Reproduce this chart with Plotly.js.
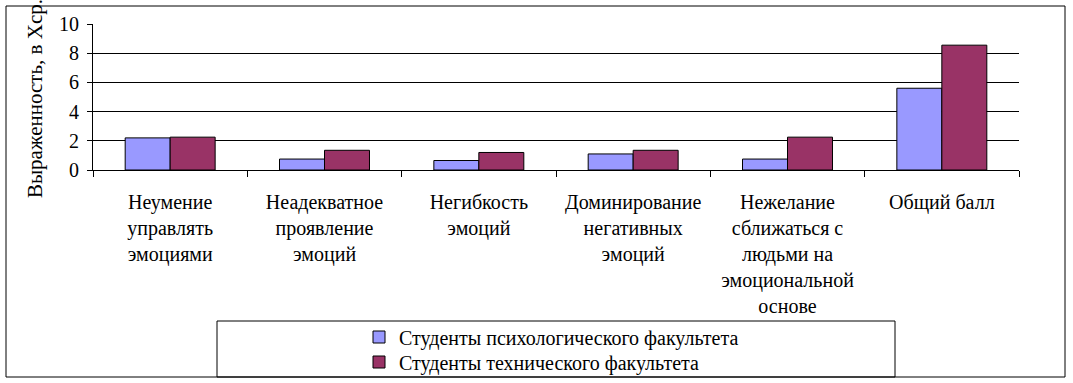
<!DOCTYPE html>
<html>
<head>
<meta charset="utf-8">
<script src="https://cdn.plot.ly/plotly-3.0.1.min.js"></script>
<style>html,body{margin:0;padding:0;background:#fff;}</style>
</head>
<body>
<div id="chart" style="width:1073px;height:383px;"></div>
<script>
const categories = [
  "Неумение<br>управлять<br>эмоциями",
  "Неадекватное<br>проявление<br>эмоций",
  "Негибкость<br>эмоций",
  "Доминирование<br>негативных<br>эмоций",
  "Нежелание<br>сближаться с<br>людьми на<br>эмоциональной<br>основе",
  "Общий балл"
];
const seriesNames = ["Студенты психологического факультета", "Студенты технического факультета"];
const psychValues = [2.2, 0.75, 0.65, 1.1, 0.75, 5.6];
const techValues = [2.25, 1.35, 1.2, 1.35, 2.25, 8.55];
const yTitle = "Выраженность, в Хср.";

const W = 1073, H = 383;
const L = 93, R = 1019, T = 24, B = 170;
const px = x => (x - L) / (R - L);
const py = y => (B - y) / (B - T);
const font = "Liberation Serif";

const traces = [
  {type: "bar", name: seriesNames[0], x: categories, y: psychValues, legend: "legend",
   marker: {color: "#9999FF", line: {color: "#000", width: 1}}},
  {type: "bar", name: seriesNames[1], x: categories, y: techValues, legend: "legend2",
   marker: {color: "#993366", line: {color: "#000", width: 1}}}
];

const legendBase = {
  xanchor: "left", yanchor: "middle",
  bgcolor: "rgba(0,0,0,0)", borderwidth: 0,
  font: {family: font, size: 20, color: "#000"},
  tracegroupgap: 0, itemwidth: 30
};

const layout = {
  width: W, height: H,
  margin: {l: L, r: W - R, t: T, b: H - B, pad: 0, autoexpand: false},
  paper_bgcolor: "#fff", plot_bgcolor: "#fff",
  font: {family: font, size: 20, color: "#000"},
  barmode: "group", bargap: 0.417, bargroupgap: 0,
  showlegend: true,
  legend: Object.assign({}, legendBase, {x: px(359), y: py(337)}),
  legend2: Object.assign({}, legendBase, {x: px(359), y: py(362)}),
  xaxis: {
    type: "category", showline: true, linecolor: "#000", linewidth: 1,
    ticks: "outside", tickson: "boundaries", ticklen: 6, tickcolor: "#000",
    showgrid: false, tickfont: {family: font, size: 20, color: "#000"},
    automargin: false, ticklabelstandoff: 14,
    fixedrange: true
  },
  yaxis: {
    range: [0, 10], dtick: 2, showline: true, linecolor: "#000", linewidth: 1,
    ticks: "outside", ticklen: 5, tickcolor: "#000",
    showgrid: true, gridcolor: "#000", gridwidth: 1,
    zeroline: true, zerolinecolor: "#000",
    tickfont: {family: font, size: 20, color: "#000"},
    ticklabelstandoff: 4,
    automargin: false,
    fixedrange: true
  },
  shapes: [
    {type: "rect", xref: "paper", yref: "paper", x0: px(6), x1: px(1065), y0: py(6), y1: py(377),
     line: {color: "#000", width: 1}, fillcolor: "rgba(0,0,0,0)", layer: "below"},
    {type: "rect", xref: "paper", yref: "paper", x0: px(217), x1: px(895), y0: py(321), y1: py(377),
     line: {color: "#000", width: 1}, fillcolor: "rgba(0,0,0,0)", layer: "below"}
  ],
  annotations: [
    {text: yTitle, xref: "paper", yref: "paper", x: px(35), y: py(99),
     xanchor: "center", yanchor: "middle", textangle: -90, showarrow: false,
     font: {family: font, size: 21, color: "#000"}}
  ]
};

Plotly.newPlot("chart", traces, layout, {displayModeBar: false, staticPlot: true});
</script>
</body>
</html>
